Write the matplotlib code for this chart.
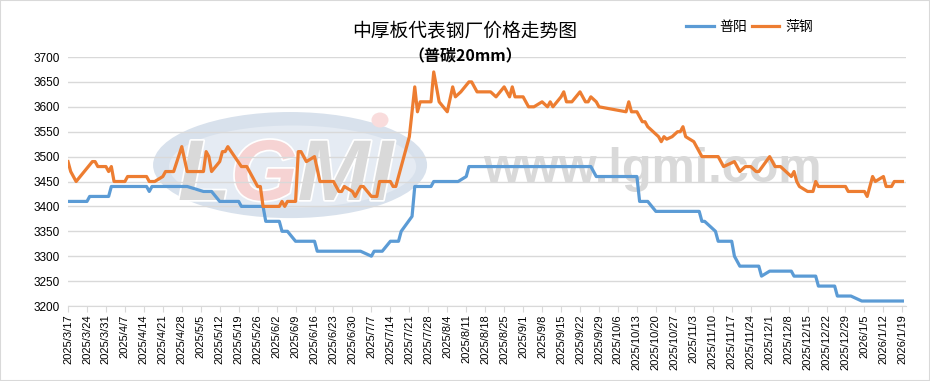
import pandas as pd
import matplotlib
matplotlib.use('Agg')
import matplotlib.pyplot as plt
import matplotlib.patheffects as pe
from matplotlib.patches import Ellipse, Rectangle

plt.rcParams['font.family'] = ['Liberation Sans', 'Noto Sans CJK SC', 'DejaVu Sans']

# 普阳 price, read at the corners of the line
puyangDates = ['2025-03-17', '2025-03-24', '2025-03-25', '2025-04-01', '2025-04-02', '2025-04-15',
               '2025-04-16', '2025-04-17', '2025-04-30', '2025-05-06', '2025-05-09', '2025-05-12',
               '2025-05-19', '2025-05-20', '2025-05-28', '2025-05-29', '2025-06-03', '2025-06-04',
               '2025-06-06', '2025-06-09', '2025-06-16', '2025-06-17', '2025-07-03', '2025-07-07',
               '2025-07-08', '2025-07-11', '2025-07-14', '2025-07-17', '2025-07-18', '2025-07-22',
               '2025-07-23', '2025-07-29', '2025-07-30', '2025-08-08', '2025-08-11', '2025-08-12',
               '2025-09-26', '2025-09-28', '2025-10-13', '2025-10-14', '2025-10-17', '2025-10-20',
               '2025-11-05', '2025-11-06', '2025-11-07', '2025-11-10', '2025-11-11', '2025-11-12',
               '2025-11-17', '2025-11-18', '2025-11-20', '2025-11-27', '2025-11-28', '2025-12-01',
               '2025-12-09', '2025-12-10', '2025-12-18', '2025-12-19', '2025-12-25', '2025-12-26',
               '2025-12-31', '2026-01-04', '2026-01-19']
puyangPrice = [3410, 3410, 3420, 3420, 3440, 3440,
               3430, 3440, 3440, 3430, 3430, 3410,
               3410, 3400, 3400, 3370, 3370, 3350,
               3350, 3330, 3330, 3310, 3310, 3300,
               3310, 3310, 3330, 3330, 3350, 3380,
               3440, 3440, 3450, 3450, 3460, 3480,
               3480, 3460, 3460, 3410, 3410, 3390,
               3390, 3370, 3370, 3355, 3350, 3330,
               3330, 3300, 3280, 3280, 3260, 3270,
               3270, 3260, 3260, 3240, 3240, 3220,
               3220, 3210, 3210]

# 萍钢 price
pinggangDates = ['2025-03-17', '2025-03-18', '2025-03-20', '2025-03-26', '2025-03-27', '2025-03-28',
                 '2025-03-31', '2025-04-01', '2025-04-02', '2025-04-03', '2025-04-07', '2025-04-08',
                 '2025-04-15', '2025-04-16', '2025-04-18', '2025-04-21', '2025-04-22', '2025-04-25',
                 '2025-04-28', '2025-04-30', '2025-05-06', '2025-05-07', '2025-05-08', '2025-05-09',
                 '2025-05-12', '2025-05-13', '2025-05-14', '2025-05-15', '2025-05-20', '2025-05-22',
                 '2025-05-26', '2025-05-27', '2025-05-28', '2025-06-03', '2025-06-04', '2025-06-05',
                 '2025-06-06', '2025-06-09', '2025-06-10', '2025-06-11', '2025-06-13', '2025-06-16',
                 '2025-06-18', '2025-06-23', '2025-06-25', '2025-06-26', '2025-06-27', '2025-06-30',
                 '2025-07-01', '2025-07-03', '2025-07-04', '2025-07-07', '2025-07-09', '2025-07-10',
                 '2025-07-14', '2025-07-15', '2025-07-16', '2025-07-21', '2025-07-23', '2025-07-24',
                 '2025-07-25', '2025-07-29', '2025-07-30', '2025-08-01', '2025-08-04', '2025-08-06',
                 '2025-08-07', '2025-08-09', '2025-08-12', '2025-08-13', '2025-08-15', '2025-08-20',
                 '2025-08-22', '2025-08-25', '2025-08-27', '2025-08-28', '2025-08-29', '2025-09-01',
                 '2025-09-03', '2025-09-05', '2025-09-08', '2025-09-10', '2025-09-11', '2025-09-12',
                 '2025-09-15', '2025-09-16', '2025-09-17', '2025-09-19', '2025-09-22', '2025-09-24',
                 '2025-09-25', '2025-09-26', '2025-09-28', '2025-09-29', '2025-10-09', '2025-10-10',
                 '2025-10-11', '2025-10-13', '2025-10-15', '2025-10-16', '2025-10-17', '2025-10-19',
                 '2025-10-21', '2025-10-22', '2025-10-23', '2025-10-24', '2025-10-26', '2025-10-28',
                 '2025-10-29', '2025-10-30', '2025-10-31', '2025-11-03', '2025-11-06', '2025-11-12',
                 '2025-11-14', '2025-11-16', '2025-11-18', '2025-11-19', '2025-11-20', '2025-11-22',
                 '2025-11-24', '2025-11-26', '2025-11-27', '2025-12-01', '2025-12-03', '2025-12-05',
                 '2025-12-07', '2025-12-09', '2025-12-10', '2025-12-11', '2025-12-12', '2025-12-15',
                 '2025-12-17', '2025-12-18', '2025-12-19', '2025-12-29', '2025-12-30', '2026-01-05',
                 '2026-01-06', '2026-01-08', '2026-01-09', '2026-01-12', '2026-01-13', '2026-01-15',
                 '2026-01-16', '2026-01-19']
pinggangPrice = [3490, 3470, 3450, 3490, 3490, 3480,
                 3480, 3470, 3480, 3450, 3450, 3460,
                 3460, 3450, 3450, 3460, 3470, 3470,
                 3520, 3470, 3470, 3510, 3500, 3470,
                 3490, 3510, 3510, 3520, 3480, 3480,
                 3440, 3440, 3400, 3400, 3410, 3400,
                 3410, 3410, 3510, 3510, 3490, 3500,
                 3450, 3450, 3430, 3430, 3440, 3430,
                 3420, 3440, 3440, 3420, 3420, 3450,
                 3450, 3440, 3440, 3540, 3640, 3590,
                 3610, 3610, 3670, 3610, 3590, 3640,
                 3620, 3630, 3650, 3650, 3630, 3630,
                 3620, 3640, 3620, 3640, 3620, 3620,
                 3600, 3600, 3610, 3600, 3610, 3600,
                 3620, 3630, 3610, 3610, 3630, 3610,
                 3610, 3620, 3610, 3600, 3590, 3610,
                 3590, 3590, 3570, 3570, 3560, 3550,
                 3540, 3530, 3540, 3535, 3540, 3550,
                 3550, 3560, 3540, 3530, 3500, 3500,
                 3480, 3485, 3490, 3480, 3470, 3480,
                 3480, 3470, 3470, 3500, 3480, 3480,
                 3470, 3460, 3470, 3450, 3440, 3430,
                 3430, 3450, 3440, 3440, 3430, 3430,
                 3420, 3460, 3450, 3460, 3440, 3440,
                 3450, 3450]

weekTicks = pd.date_range('2025-03-17', '2026-01-19', freq='7D')
tickLabels = [f'{d.year}/{d.month}/{d.day}' for d in weekTicks]

fig = plt.figure(figsize=(9.3, 3.81), dpi=100)
ax = fig.add_axes([68 / 930, 1 - 306 / 381, (906 - 68) / 930, (306 - 57) / 381])

# watermark logo, kept under the grid and the lines
ax.add_patch(Ellipse((0.265, 0.566), 0.327, 0.426, transform=ax.transAxes,
                     facecolor='#d8e1ec', edgecolor='none', zorder=0.1))
ax.add_patch(Ellipse((0.268, 0.56), 0.295, 0.33, transform=ax.transAxes,
                     facecolor='#e5ebf3', edgecolor='none', zorder=0.15))
ax.add_patch(Ellipse((380 / 930, 1 - 120 / 381), 17 / 930, 15 / 381, transform=fig.transFigure,
                     facecolor='#f9dcdc', edgecolor='none', zorder=0.2))
halo = [pe.withStroke(linewidth=2.5, foreground='white')]
prev = ax.text(178 / 930, 1 - 200 / 381, 'L', transform=fig.transFigure, fontsize=62,
               fontweight='bold', style='italic', color='#d9d9d9', va='baseline',
               path_effects=halo, zorder=0.3)
for letter, col in [('G', '#f6d3d3'), ('M', '#d9d9d9'), ('I', '#d9d9d9')]:
    prev = ax.annotate(letter, xy=(1, 0), xycoords=prev, fontsize=62, fontweight='bold',
                       style='italic', color=col, va='bottom', ha='left',
                       path_effects=halo, zorder=0.3)
ax.text(483 / 930, 1 - 182 / 381, 'www.lgmi.com', transform=fig.transFigure, fontsize=35,
        fontweight='bold', color='#d9d9d9', ha='left', va='baseline', zorder=0.3)

ax.plot(pd.to_datetime(puyangDates), puyangPrice, color='#5B9BD5', lw=2.3, label='普阳', zorder=3)
ax.plot(pd.to_datetime(pinggangDates), pinggangPrice, color='#ED7D31', lw=2.3, label='萍钢', zorder=3)

ax.set_ylim(3200, 3700)
ax.set_yticks(range(3200, 3701, 50))
ax.set_xlim(pd.Timestamp('2025-03-17'), pd.Timestamp('2026-01-20 08:00'))
ax.set_xticks(weekTicks)
ax.set_xticklabels(tickLabels, rotation=90, fontsize=8)
ax.tick_params(axis='x', direction='out', length=4, color='#d9d9d9', pad=2)
ax.tick_params(axis='y', length=0, labelsize=8.5, pad=6)
ax.grid(axis='y', color='#d9d9d9', lw=1, zorder=0.5)
ax.set_axisbelow(True)
for s in ['top', 'right', 'left']:
    ax.spines[s].set_visible(False)
ax.spines['bottom'].set_color('#d9d9d9')
ax.patch.set_alpha(0)

fig.text(0.5, 0.918, '中厚板代表钢厂价格走势图', fontsize=13.5, ha='center', va='center',
         family=['Noto Sans CJK SC'])
fig.text(0.5, 0.855, '（普碳20mm）', fontsize=11.5, fontweight='bold', ha='center', va='center',
         family=['Noto Sans CJK SC'])

fig.legend(loc='center', bbox_to_anchor=(0.806, 0.929), ncol=2, frameon=False,
           prop={'family': 'Noto Sans CJK SC', 'size': 10}, handlelength=2.0,
           columnspacing=0.3, handletextpad=0.4)

fig.add_artist(Rectangle((0, 0), 1, 1, transform=fig.transFigure, fill=False,
                         edgecolor='#d9d9d9', lw=1.5))

fig.savefig('out.png', dpi=100)
